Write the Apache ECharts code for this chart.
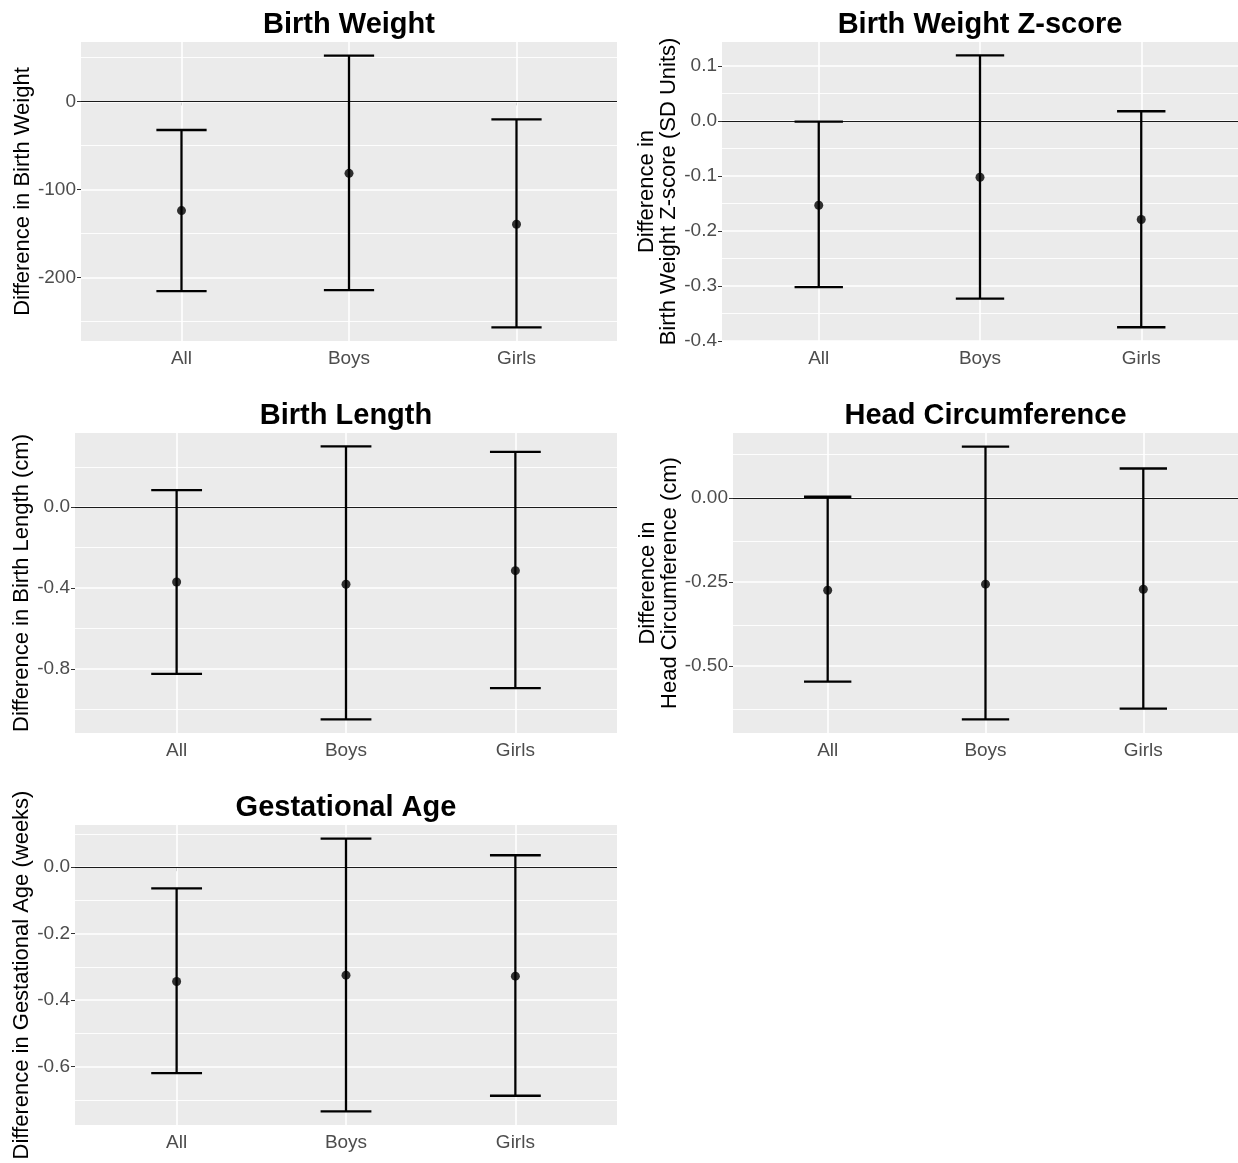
<!DOCTYPE html>
<html><head><meta charset="utf-8">
<script src="https://cdn.jsdelivr.net/npm/echarts@6/dist/echarts.min.js"></script>
<style>html,body{margin:0;padding:0;background:#fff}#c{width:1238px;height:1163px}</style>
</head><body><div id="c"></div>
<script>
// ---------- data ----------
const categories = ['All', 'Boys', 'Girls'];
const categoryPos = [1, 2, 3];
const panelTitles = ['Birth Weight', 'Birth Weight Z-score', 'Birth Length', 'Head Circumference', 'Gestational Age'];
const axisTitles = [
  'Difference in Birth Weight',
  'Difference in\nBirth Weight Z-score (SD Units)',
  'Difference in Birth Length (cm)',
  'Difference in\nHead Circumference (cm)',
  'Difference in Gestational Age (weeks)'
];

const bwMean  = [-124.0, -81.7, -139.5];
const bwLower = [-215.5, -214.4, -256.7];
const bwUpper = [-32.5, 52.0, -20.4];
const bwTicks = [-200, -100, 0];
const bwTickLabels = ['-200', '-100', '0'];
const bwMinor = [-250, -150, -50, 50];
const bwLimits = [-272.1, 67.4];

const zMean  = [-0.153, -0.102, -0.179];
const zLower = [-0.302, -0.323, -0.375];
const zUpper = [-0.001, 0.1195, 0.018];
const zTicks = [-0.4, -0.3, -0.2, -0.1, 0, 0.1];
const zTickLabels = ['-0.4', '-0.3', '-0.2', '-0.1', '0.0', '0.1'];
const zMinor = [-0.35, -0.25, -0.15, -0.05, 0.05];
const zLimits = [-0.4, 0.144];

const blMean  = [-0.370, -0.381, -0.314];
const blLower = [-0.825, -1.050, -0.895];
const blUpper = [0.085, 0.301, 0.274];
const blTicks = [-0.8, -0.4, 0];
const blTickLabels = ['-0.8', '-0.4', '0.0'];
const blMinor = [-1.0, -0.6, -0.2, 0.2];
const blLimits = [-1.1175, 0.3675];

const hcMean  = [-0.275, -0.257, -0.272];
const hcLower = [-0.547, -0.659, -0.627];
const hcUpper = [0.003, 0.152, 0.087];
const hcTicks = [-0.5, -0.25, 0];
const hcTickLabels = ['-0.50', '-0.25', '0.00'];
const hcMinor = [-0.625, -0.375, -0.125, 0.125];
const hcLimits = [-0.6996, 0.1926];

const gaMean  = [-0.344, -0.325, -0.328];
const gaLower = [-0.620, -0.735, -0.688];
const gaUpper = [-0.064, 0.086, 0.036];
const gaTicks = [-0.6, -0.4, -0.2, 0];
const gaTickLabels = ['-0.6', '-0.4', '-0.2', '0.0'];
const gaMinor = [-0.7, -0.5, -0.3, -0.1, 0.1];
const gaLimits = [-0.776, 0.127];

// ---------- layout / style ----------
const FONT = "'Liberation Sans', Arial, sans-serif";
const panels = [
  { mean: bwMean, lo: bwLower, hi: bwUpper, ticks: bwTicks, labels: bwTickLabels, minor: bwMinor, lim: bwLimits,
    grid: { left: 81, top: 42, width: 536, height: 299 }, nameGap: 45 },
  { mean: zMean, lo: zLower, hi: zUpper, ticks: zTicks, labels: zTickLabels, minor: zMinor, lim: zLimits,
    grid: { left: 722, top: 42, width: 516, height: 299 }, nameGap: 41 },
  { mean: blMean, lo: blLower, hi: blUpper, ticks: blTicks, labels: blTickLabels, minor: blMinor, lim: blLimits,
    grid: { left: 75, top: 433, width: 542, height: 300 }, nameGap: 39 },
  { mean: hcMean, lo: hcLower, hi: hcUpper, ticks: hcTicks, labels: hcTickLabels, minor: hcMinor, lim: hcLimits,
    grid: { left: 733, top: 433, width: 505, height: 300 }, nameGap: 52 },
  { mean: gaMean, lo: gaLower, hi: gaUpper, ticks: gaTicks, labels: gaTickLabels, minor: gaMinor, lim: gaLimits,
    grid: { left: 75, top: 825, width: 542, height: 300 }, nameGap: 39 }
];
const titleTops = [10, 10, 401, 401, 793];
const CAP_WIDTH = 0.3;

const grid = [], xAxis = [], yAxis = [], series = [], title = [];

panels.forEach((p, i) => {
  grid.push(Object.assign({ backgroundColor: '#EBEBEB', show: true, borderWidth: 0 }, p.grid));
  title.push({
    text: panelTitles[i], left: p.grid.left + p.grid.width / 2, top: titleTops[i], textAlign: 'center', padding: 0,
    textStyle: { fontFamily: FONT, fontSize: 29, fontWeight: 'bold', color: '#000' }
  });
  xAxis.push({
    type: 'value', gridIndex: i, min: 0.4, max: 3.6,
    axisLine: { show: false },
    axisTick: { show: true, customValues: categoryPos, length: 4, lineStyle: { color: '#333', width: 1 } },
    axisLabel: { customValues: categoryPos, margin: 8, color: '#4D4D4D', fontSize: 19, fontFamily: FONT,
      formatter: v => categories[Math.round(v) - 1] || '' },
    splitLine: { show: false }
  });
  yAxis.push({
    type: 'value', gridIndex: i, min: p.lim[0], max: p.lim[1],
    axisLine: { show: false },
    axisTick: { show: true, customValues: p.ticks, length: 4, lineStyle: { color: '#333', width: 1 } },
    axisLabel: { customValues: p.ticks, margin: 5, color: '#4D4D4D', fontSize: 19, fontFamily: FONT,
      formatter: v => { const j = p.ticks.findIndex(t => Math.abs(t - v) < 1e-9); return j >= 0 ? p.labels[j] : ''; } },
    splitLine: { show: false },
    name: axisTitles[i], nameLocation: 'middle', nameRotate: 90, nameGap: p.nameGap,
    nameTextStyle: { fontFamily: FONT, fontSize: 22, color: '#000', lineHeight: 22 }
  });

  const gridLines = [];
  p.minor.forEach(v => gridLines.push({ yAxis: v, lineStyle: { color: '#fff', width: 0.9, type: 'solid' } }));
  p.ticks.forEach(v => gridLines.push({ yAxis: v, lineStyle: { color: '#fff', width: 1.6, type: 'solid' } }));
  categoryPos.forEach(v => gridLines.push({ xAxis: v, lineStyle: { color: '#fff', width: 1.6, type: 'solid' } }));

  series.push({
    type: 'line', xAxisIndex: i, yAxisIndex: i, data: [], z: 1, silent: true, animation: false,
    markLine: { z: 1, symbol: ['none', 'none'], silent: true, animation: false, label: { show: false }, data: gridLines }
  });
  series.push({
    type: 'line', xAxisIndex: i, yAxisIndex: i, data: [], z: 2, silent: true, animation: false,
    markLine: { z: 2, symbol: ['none', 'none'], silent: true, animation: false, label: { show: false },
      data: [{ yAxis: 0, lineStyle: { color: '#1a1a1a', width: 1.1, type: 'solid' } }] }
  });
  series.push({
    type: 'custom', xAxisIndex: i, yAxisIndex: i, z: 3, animation: false, silent: true,
    data: categoryPos.map((x, k) => [x, p.lo[k], p.hi[k]]),
    renderItem: (params, api) => {
      const x = api.value(0);
      const a = api.coord([x, api.value(1)]);
      const b = api.coord([x, api.value(2)]);
      const half = api.size([CAP_WIDTH, 0])[0] / 2;
      const st = { stroke: '#000', lineWidth: 2.3 };
      return { type: 'group', children: [
        { type: 'line', shape: { x1: b[0], y1: b[1], x2: a[0], y2: a[1] }, style: st },
        { type: 'line', shape: { x1: b[0] - half, y1: b[1], x2: b[0] + half, y2: b[1] }, style: st },
        { type: 'line', shape: { x1: a[0] - half, y1: a[1], x2: a[0] + half, y2: a[1] }, style: st }
      ] };
    }
  });
  series.push({
    type: 'scatter', xAxisIndex: i, yAxisIndex: i, z: 4, animation: false, silent: true,
    symbol: 'circle', symbolSize: 9, itemStyle: { color: '#000' },
    data: categoryPos.map((x, k) => [x, p.mean[k]])
  });
});

const chart = echarts.init(document.getElementById('c'), null, { renderer: 'canvas' });
chart.setOption({ backgroundColor: '#fff', animation: false, title, grid, xAxis, yAxis, series });
</script>
</body></html>
